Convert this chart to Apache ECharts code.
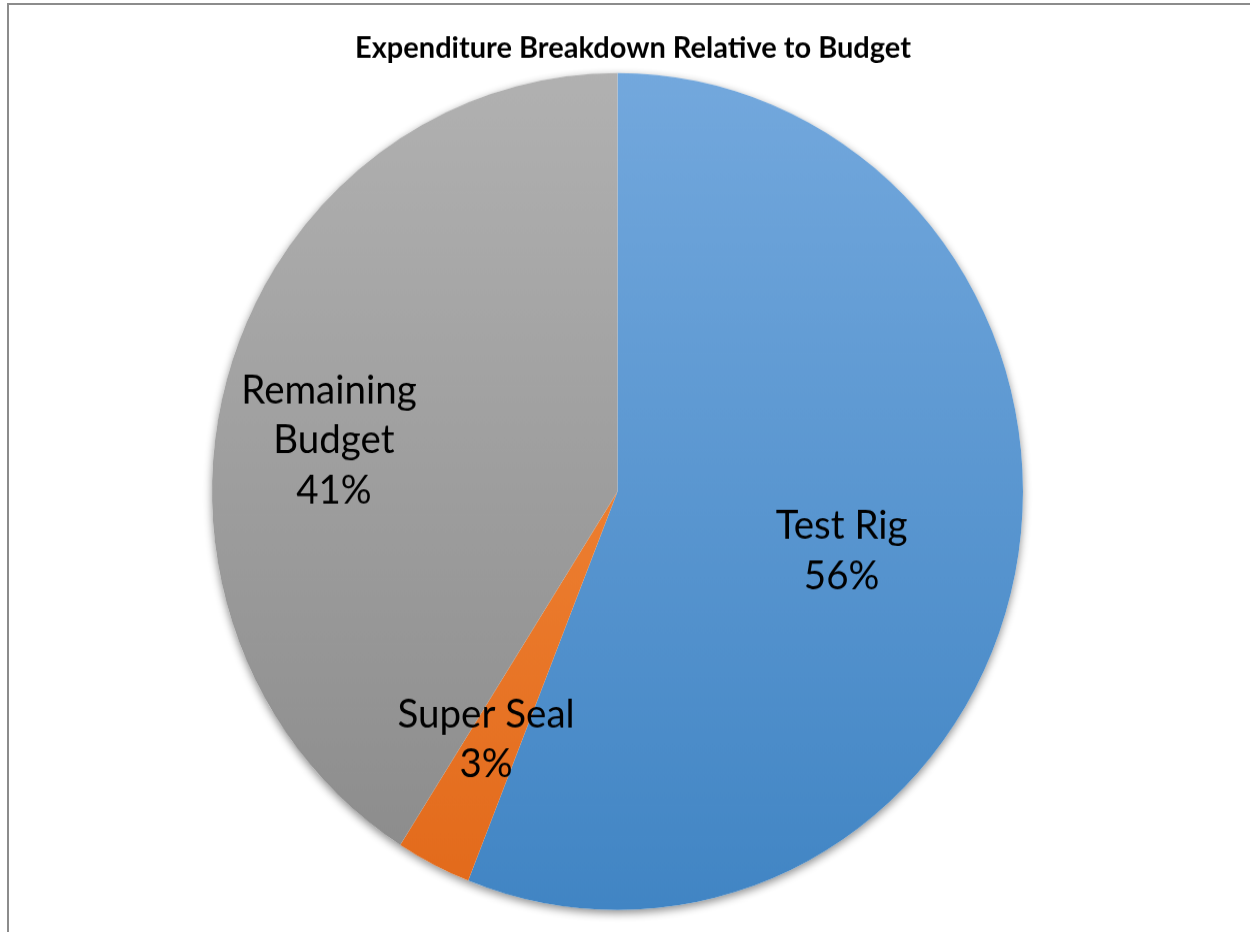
<!DOCTYPE html>
<html>
<head>
<meta charset="utf-8">
<script src="https://cdn.jsdelivr.net/npm/echarts@6/dist/echarts.min.js"></script>
<style>
  html, body { margin: 0; padding: 0; background: #ffffff; overflow: hidden; }
  #frame {
    position: absolute; left: 7px; top: 3px; width: 1300px; height: 1000px;
    border-top: 2px solid #8c8c8c; border-left: 2px solid #8c8c8c;
  }
  /* the pie is drawn slightly taller than wide, so the canvas is stretched vertically */
  #chart {
    position: absolute; left: 0; top: 0; width: 1250px; height: 903px;
    transform: scaleY(1.032); transform-origin: 0 0;
  }
</style>
</head>
<body>
<div id="frame"></div>
<div id="chart"></div>
<script>
// Expenditure shares, in percent
const categories = ['Test Rig', 'Super Seal', 'Remaining Budget'];
const shares = [56, 3, 41];
const titleText = 'Expenditure Breakdown Relative to Budget';

// top and bottom gradient colour for each slice
const sliceColors = [
  ['#73a8dd', '#4185c4'],
  ['#f89447', '#e2691a'],
  ['#b1b1b1', '#8a8a8a']
];

const CX = 617.5, CY = 476.3, R = 405.5;

function gradient(pair) {
  return {
    type: 'linear', global: true,
    x: 0, y: CY - R, x2: 0, y2: CY + R,
    colorStops: [{ offset: 0, color: pair[0] }, { offset: 1, color: pair[1] }]
  };
}

// nudge each inside label to its spot within the slice
const labelShift = [[22, 19], [-38, 57], [-86, 8]];

const chart = echarts.init(document.getElementById('chart'), null, { renderer: 'canvas' });
chart.setOption({
  animation: false,
  title: {
    text: titleText,
    left: 632.5 - 4.5, top: 41.5, textAlign: 'center', textVerticalAlign: 'middle',
    textStyle: { fontFamily: 'Lato', fontWeight: 'bold', fontSize: 29, color: '#000000' }
  },
  series: [
    {
      // soft drop shadow under the whole pie
      type: 'pie', silent: true, z: 1,
      center: [CX, CY], radius: R, startAngle: 90,
      label: { show: false }, labelLine: { show: false },
      itemStyle: {
        color: '#ffffff', borderWidth: 0,
        shadowBlur: 9, shadowOffsetY: 3, shadowColor: 'rgba(0,0,0,0.45)'
      },
      data: [{ name: 'total', value: shares.reduce((a, b) => a + b, 0) }]
    },
    {
      type: 'pie', z: 2,
      center: [CX, CY], radius: R, startAngle: 90, clockwise: true,
      avoidLabelOverlap: false,
      itemStyle: { borderWidth: 0 },
      label: {
        show: true, position: 'inside',
        formatter: '{b}\n{d}%',
        fontFamily: 'Lato', fontSize: 38.5, lineHeight: 48.5,
        color: '#000000', align: 'center',
        width: 220, overflow: 'break'
      },
      labelLine: { show: false },
      labelLayout: function (p) {
        const s = labelShift[p.dataIndex];
        return { dx: s[0], dy: s[1] };
      },
      data: categories.map((name, i) => ({
        name: name, value: shares[i],
        itemStyle: { color: gradient(sliceColors[i]) }
      }))
    }
  ]
});
</script>
</body>
</html>
